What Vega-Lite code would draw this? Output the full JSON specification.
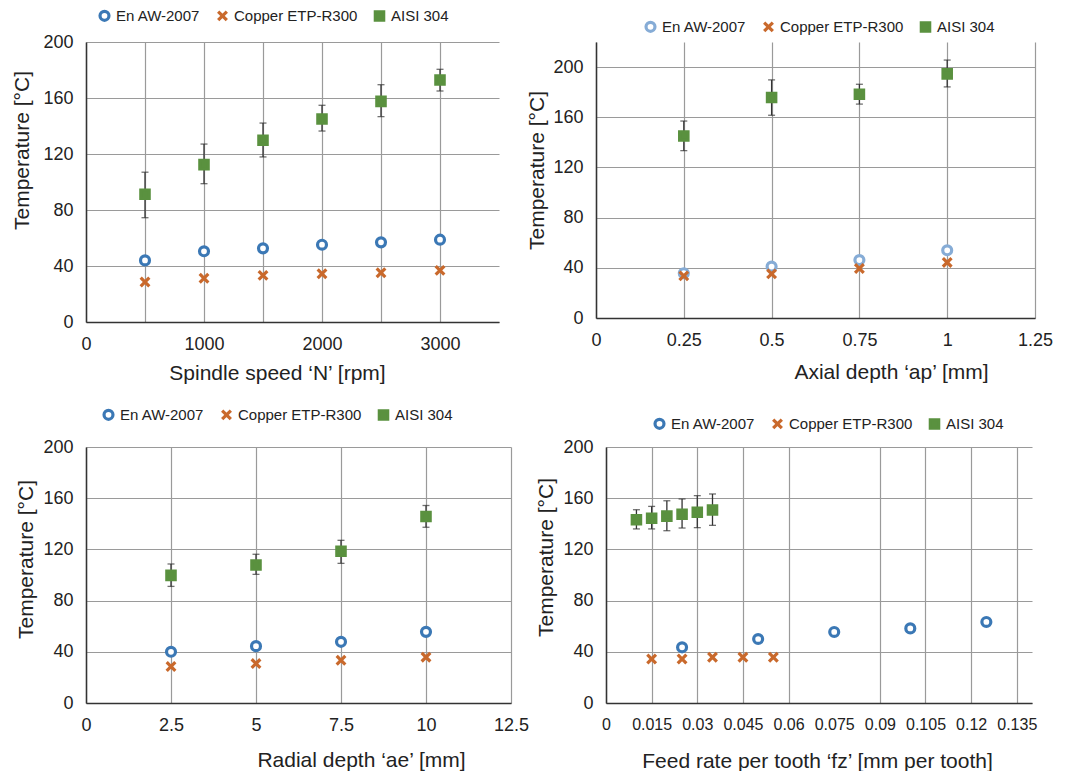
{
  "$schema": "https://vega.github.io/schema/vega-lite/v6.json",
  "padding": {"left": 10, "top": 8, "right": 0, "bottom": 0},
  "bounds": "flush",
  "spacing": 405,
  "datasets": {
    "p1": [
      {"material": "En AW-2007", "x": 500, "t": 44},
      {"material": "En AW-2007", "x": 1000, "t": 50.5},
      {"material": "En AW-2007", "x": 1500, "t": 52.6},
      {"material": "En AW-2007", "x": 2000, "t": 55.2},
      {"material": "En AW-2007", "x": 2500, "t": 56.9},
      {"material": "En AW-2007", "x": 3000, "t": 58.8},
      {"material": "Copper ETP-R300", "x": 500, "t": 28.6},
      {"material": "Copper ETP-R300", "x": 1000, "t": 31.2},
      {"material": "Copper ETP-R300", "x": 1500, "t": 33.3},
      {"material": "Copper ETP-R300", "x": 2000, "t": 34.5},
      {"material": "Copper ETP-R300", "x": 2500, "t": 35.2},
      {"material": "Copper ETP-R300", "x": 3000, "t": 36.9},
      {"material": "AISI 304", "x": 500, "t": 91.2, "lo": 74.5, "hi": 107},
      {"material": "AISI 304", "x": 1000, "t": 112.4, "lo": 98.8, "hi": 127.1},
      {"material": "AISI 304", "x": 1500, "t": 129.8, "lo": 117.9, "hi": 142.1},
      {"material": "AISI 304", "x": 2000, "t": 145, "lo": 136.4, "hi": 154.8},
      {"material": "AISI 304", "x": 2500, "t": 157.6, "lo": 146.7, "hi": 169.5},
      {"material": "AISI 304", "x": 3000, "t": 172.9, "lo": 165, "hi": 180.5}
    ],
    "p2": [
      {"material": "En AW-2007", "x": 0.25, "t": 35.7},
      {"material": "En AW-2007", "x": 0.5, "t": 41},
      {"material": "En AW-2007", "x": 0.75, "t": 46.2},
      {"material": "En AW-2007", "x": 1, "t": 54},
      {"material": "Copper ETP-R300", "x": 0.25, "t": 33.6},
      {"material": "Copper ETP-R300", "x": 0.5, "t": 35.2},
      {"material": "Copper ETP-R300", "x": 0.75, "t": 39.5},
      {"material": "Copper ETP-R300", "x": 1, "t": 44.3},
      {"material": "AISI 304", "x": 0.25, "t": 145, "lo": 133.4, "hi": 157},
      {"material": "AISI 304", "x": 0.5, "t": 175.8, "lo": 161.6, "hi": 189.8},
      {"material": "AISI 304", "x": 0.75, "t": 178.3, "lo": 170.5, "hi": 186.3},
      {"material": "AISI 304", "x": 1, "t": 194.6, "lo": 184.2, "hi": 205.6}
    ],
    "p3": [
      {"material": "En AW-2007", "x": 2.5, "t": 40},
      {"material": "En AW-2007", "x": 5, "t": 44.4},
      {"material": "En AW-2007", "x": 7.5, "t": 47.8},
      {"material": "En AW-2007", "x": 10, "t": 55.6},
      {"material": "Copper ETP-R300", "x": 2.5, "t": 28.5},
      {"material": "Copper ETP-R300", "x": 5, "t": 30.8},
      {"material": "Copper ETP-R300", "x": 7.5, "t": 33.4},
      {"material": "Copper ETP-R300", "x": 10, "t": 35.8},
      {"material": "AISI 304", "x": 2.5, "t": 99.7, "lo": 91.1, "hi": 108.6},
      {"material": "AISI 304", "x": 5, "t": 107.8, "lo": 100.5, "hi": 116.2},
      {"material": "AISI 304", "x": 7.5, "t": 118.5, "lo": 109.1, "hi": 127.1},
      {"material": "AISI 304", "x": 10, "t": 145.7, "lo": 137.3, "hi": 154.3}
    ],
    "p4": [
      {"material": "En AW-2007", "x": 0.025, "t": 43.5},
      {"material": "En AW-2007", "x": 0.05, "t": 50},
      {"material": "En AW-2007", "x": 0.075, "t": 55.5},
      {"material": "En AW-2007", "x": 0.1, "t": 58.3},
      {"material": "En AW-2007", "x": 0.125, "t": 63.3},
      {"material": "Copper ETP-R300", "x": 0.015, "t": 34.4},
      {"material": "Copper ETP-R300", "x": 0.025, "t": 34.4},
      {"material": "Copper ETP-R300", "x": 0.035, "t": 35.7},
      {"material": "Copper ETP-R300", "x": 0.045, "t": 35.7},
      {"material": "Copper ETP-R300", "x": 0.055, "t": 35.7},
      {"material": "AISI 304", "x": 0.01, "t": 143.2, "lo": 136, "hi": 151},
      {"material": "AISI 304", "x": 0.015, "t": 144.3, "lo": 136, "hi": 153.6},
      {"material": "AISI 304", "x": 0.02, "t": 146, "lo": 134.6, "hi": 158},
      {"material": "AISI 304", "x": 0.025, "t": 147.4, "lo": 136.7, "hi": 159.4},
      {"material": "AISI 304", "x": 0.03, "t": 149, "lo": 137, "hi": 162},
      {"material": "AISI 304", "x": 0.035, "t": 150.8, "lo": 138.8, "hi": 163.3}
    ]
  },
  "resolve": {
    "scale": {"stroke": "independent", "fill": "independent", "shape": "independent", "strokeWidth": "independent", "size": "independent"},
    "legend": {"stroke": "independent", "fill": "independent", "shape": "independent", "strokeWidth": "independent", "size": "independent"}
  },
  "vconcat": [
    {
      "hconcat": [
        {
          "width": 413, "height": 280,
          "data": {"name": "p1"},
          "layer": [
            {
              "transform": [{"filter": "isValid(datum.lo)"}],
              "mark": {"type": "errorbar", "color": "#333", "thickness": 1.3, "ticks": {"size": 7, "color": "#333"}},
              "encoding": {
                "x": {"field": "x", "type": "quantitative", "scale": {"domain": [0, 3500], "nice": false}, "axis": {"values": [0, 500, 1000, 1500, 2000, 2500, 3000], "format": ".6~g", "labelExpr": "datum.value % 1000 == 0 ? datum.label : ''", "title": "Spindle speed  ‘N’ [rpm]", "titleX": 191, "titleY": 51}},
                "y": {"field": "lo", "type": "quantitative", "scale": {"domain": [0, 200], "nice": false}, "axis": {"values": [0, 40, 80, 120, 160, 200], "title": "Temperature [°C]", "titleX": -64, "titleY": 108}},
                "y2": {"field": "hi"}
              }
            },
            {
              "mark": {"type": "point", "opacity": 1},
              "encoding": {
                "x": {"field": "x", "type": "quantitative", "scale": {"domain": [0, 3500], "nice": false}, "axis": {"values": [0, 500, 1000, 1500, 2000, 2500, 3000], "format": ".6~g", "labelExpr": "datum.value % 1000 == 0 ? datum.label : ''", "title": "Spindle speed  ‘N’ [rpm]", "titleX": 191, "titleY": 51}},
                "y": {"field": "t", "type": "quantitative", "scale": {"domain": [0, 200], "nice": false}, "axis": {"values": [0, 40, 80, 120, 160, 200], "title": "Temperature [°C]", "titleX": -64, "titleY": 108}},
                "shape": {"field": "material", "type": "nominal", "scale": {"domain": ["En AW-2007", "Copper ETP-R300", "AISI 304"], "range": ["circle", "M-1,-1L1,1M1,-1L-1,1", "square"]}, "legend": {"orient": "none", "legendX": 11, "legendY": -34, "direction": "horizontal", "columns": 3, "title": null}},
                "stroke": {"field": "material", "type": "nominal", "scale": {"domain": ["En AW-2007", "Copper ETP-R300", "AISI 304"], "range": ["#3b78b5", "#c9692c", "#5a913f"]}, "legend": {"orient": "none", "legendX": 11, "legendY": -34, "direction": "horizontal", "columns": 3, "title": null}},
                "fill": {"field": "material", "type": "nominal", "scale": {"domain": ["En AW-2007", "Copper ETP-R300", "AISI 304"], "range": ["#ffffff", "rgba(0,0,0,0)", "#5a913f"]}, "legend": {"orient": "none", "legendX": 11, "legendY": -34, "direction": "horizontal", "columns": 3, "title": null}},
                "strokeWidth": {"field": "material", "type": "nominal", "scale": {"domain": ["En AW-2007", "Copper ETP-R300", "AISI 304"], "range": [3.2, 3.2, 1]}, "legend": {"orient": "none", "legendX": 11, "legendY": -34, "direction": "horizontal", "columns": 3, "title": null}},
                "size": {"field": "material", "type": "nominal", "scale": {"domain": ["En AW-2007", "Copper ETP-R300", "AISI 304"], "range": [80, 70, 64]}, "legend": {"orient": "none", "legendX": 11, "legendY": -34, "direction": "horizontal", "columns": 3, "title": null}}
              }
            }
          ]
        },
        {
          "width": 439, "height": 276,
          "data": {"name": "p2"},
          "layer": [
            {
              "transform": [{"filter": "isValid(datum.lo)"}],
              "mark": {"type": "errorbar", "color": "#333", "thickness": 1.3, "ticks": {"size": 7, "color": "#333"}},
              "encoding": {
                "x": {"field": "x", "type": "quantitative", "scale": {"domain": [0, 1.25], "nice": false}, "axis": {"values": [0, 0.25, 0.5, 0.75, 1, 1.25], "format": ".6~g", "title": "Axial depth  ‘ap’ [mm]", "titleX": 295, "titleY": 54}},
                "y": {"field": "lo", "type": "quantitative", "scale": {"domain": [0, 220], "nice": false}, "axis": {"values": [0, 40, 80, 120, 160, 200], "title": "Temperature [°C]", "titleX": -59, "titleY": 128}},
                "y2": {"field": "hi"}
              }
            },
            {
              "mark": {"type": "point", "opacity": 1},
              "encoding": {
                "x": {"field": "x", "type": "quantitative", "scale": {"domain": [0, 1.25], "nice": false}, "axis": {"values": [0, 0.25, 0.5, 0.75, 1, 1.25], "format": ".6~g", "title": "Axial depth  ‘ap’ [mm]", "titleX": 295, "titleY": 54}},
                "y": {"field": "t", "type": "quantitative", "scale": {"domain": [0, 220], "nice": false}, "axis": {"values": [0, 40, 80, 120, 160, 200], "title": "Temperature [°C]", "titleX": -59, "titleY": 128}},
                "shape": {"field": "material", "type": "nominal", "scale": {"domain": ["En AW-2007", "Copper ETP-R300", "AISI 304"], "range": ["circle", "M-1,-1L1,1M1,-1L-1,1", "square"]}, "legend": {"orient": "none", "legendX": 47, "legendY": -23, "direction": "horizontal", "columns": 3, "title": null}},
                "stroke": {"field": "material", "type": "nominal", "scale": {"domain": ["En AW-2007", "Copper ETP-R300", "AISI 304"], "range": ["#86acd6", "#c9692c", "#5a913f"]}, "legend": {"orient": "none", "legendX": 47, "legendY": -23, "direction": "horizontal", "columns": 3, "title": null}},
                "fill": {"field": "material", "type": "nominal", "scale": {"domain": ["En AW-2007", "Copper ETP-R300", "AISI 304"], "range": ["#ffffff", "rgba(0,0,0,0)", "#5a913f"]}, "legend": {"orient": "none", "legendX": 47, "legendY": -23, "direction": "horizontal", "columns": 3, "title": null}},
                "strokeWidth": {"field": "material", "type": "nominal", "scale": {"domain": ["En AW-2007", "Copper ETP-R300", "AISI 304"], "range": [3.2, 3.2, 1]}, "legend": {"orient": "none", "legendX": 47, "legendY": -23, "direction": "horizontal", "columns": 3, "title": null}},
                "size": {"field": "material", "type": "nominal", "scale": {"domain": ["En AW-2007", "Copper ETP-R300", "AISI 304"], "range": [80, 70, 64]}, "legend": {"orient": "none", "legendX": 47, "legendY": -23, "direction": "horizontal", "columns": 3, "title": null}}
              }
            }
          ]
        }
      ],
      "spacing": 97,
      "bounds": "flush",
      "resolve": {
        "scale": {"stroke": "independent", "fill": "independent", "shape": "independent", "strokeWidth": "independent", "size": "independent"},
        "legend": {"stroke": "independent", "fill": "independent", "shape": "independent", "strokeWidth": "independent", "size": "independent"}
      }
    },
    {
      "hconcat": [
        {
          "width": 425, "height": 256,
          "data": {"name": "p3"},
          "layer": [
            {
              "transform": [{"filter": "isValid(datum.lo)"}],
              "mark": {"type": "errorbar", "color": "#333", "thickness": 1.3, "ticks": {"size": 7, "color": "#333"}},
              "encoding": {
                "x": {"field": "x", "type": "quantitative", "scale": {"domain": [0, 12.5], "nice": false}, "axis": {"values": [0, 2.5, 5, 7.5, 10, 12.5], "format": ".6~g", "title": "Radial depth  ‘ae’ [mm]", "titleX": 275, "titleY": 57}},
                "y": {"field": "lo", "type": "quantitative", "scale": {"domain": [0, 200], "nice": false}, "axis": {"values": [0, 40, 80, 120, 160, 200], "title": "Temperature [°C]", "titleX": -60, "titleY": 112}},
                "y2": {"field": "hi"}
              }
            },
            {
              "mark": {"type": "point", "opacity": 1},
              "encoding": {
                "x": {"field": "x", "type": "quantitative", "scale": {"domain": [0, 12.5], "nice": false}, "axis": {"values": [0, 2.5, 5, 7.5, 10, 12.5], "format": ".6~g", "title": "Radial depth  ‘ae’ [mm]", "titleX": 275, "titleY": 57}},
                "y": {"field": "t", "type": "quantitative", "scale": {"domain": [0, 200], "nice": false}, "axis": {"values": [0, 40, 80, 120, 160, 200], "title": "Temperature [°C]", "titleX": -60, "titleY": 112}},
                "shape": {"field": "material", "type": "nominal", "scale": {"domain": ["En AW-2007", "Copper ETP-R300", "AISI 304"], "range": ["circle", "M-1,-1L1,1M1,-1L-1,1", "square"]}, "legend": {"orient": "none", "legendX": 15, "legendY": -40, "direction": "horizontal", "columns": 3, "title": null}},
                "stroke": {"field": "material", "type": "nominal", "scale": {"domain": ["En AW-2007", "Copper ETP-R300", "AISI 304"], "range": ["#3b78b5", "#c9692c", "#5a913f"]}, "legend": {"orient": "none", "legendX": 15, "legendY": -40, "direction": "horizontal", "columns": 3, "title": null}},
                "fill": {"field": "material", "type": "nominal", "scale": {"domain": ["En AW-2007", "Copper ETP-R300", "AISI 304"], "range": ["#ffffff", "rgba(0,0,0,0)", "#5a913f"]}, "legend": {"orient": "none", "legendX": 15, "legendY": -40, "direction": "horizontal", "columns": 3, "title": null}},
                "strokeWidth": {"field": "material", "type": "nominal", "scale": {"domain": ["En AW-2007", "Copper ETP-R300", "AISI 304"], "range": [3.2, 3.2, 1]}, "legend": {"orient": "none", "legendX": 15, "legendY": -40, "direction": "horizontal", "columns": 3, "title": null}},
                "size": {"field": "material", "type": "nominal", "scale": {"domain": ["En AW-2007", "Copper ETP-R300", "AISI 304"], "range": [80, 70, 64]}, "legend": {"orient": "none", "legendX": 15, "legendY": -40, "direction": "horizontal", "columns": 3, "title": null}}
              }
            }
          ]
        },
        {
          "width": 426, "height": 256,
          "data": {"name": "p4"},
          "layer": [
            {
              "transform": [{"filter": "isValid(datum.lo)"}],
              "mark": {"type": "errorbar", "color": "#333", "thickness": 1.3, "ticks": {"size": 7, "color": "#333"}},
              "encoding": {
                "x": {"field": "x", "type": "quantitative", "scale": {"domain": [0, 0.14], "nice": false}, "axis": {"values": [0, 0.015, 0.03, 0.045, 0.06, 0.075, 0.09, 0.105, 0.12, 0.135], "format": ".6~g", "labelFontSize": 16, "gridColor": {"condition": {"test": "abs(datum.value - 0.075) < 0.000001", "value": "rgba(0,0,0,0)"}, "value": "#9a9a9a"}, "title": "Feed rate per tooth  ‘fz’ [mm per tooth]", "titleX": 211, "titleY": 58}},
                "y": {"field": "lo", "type": "quantitative", "scale": {"domain": [0, 200], "nice": false}, "axis": {"values": [0, 40, 80, 120, 160, 200], "title": "Temperature [°C]", "titleX": -60, "titleY": 110}},
                "y2": {"field": "hi"}
              }
            },
            {
              "mark": {"type": "point", "opacity": 1},
              "encoding": {
                "x": {"field": "x", "type": "quantitative", "scale": {"domain": [0, 0.14], "nice": false}, "axis": {"values": [0, 0.015, 0.03, 0.045, 0.06, 0.075, 0.09, 0.105, 0.12, 0.135], "format": ".6~g", "labelFontSize": 16, "gridColor": {"condition": {"test": "abs(datum.value - 0.075) < 0.000001", "value": "rgba(0,0,0,0)"}, "value": "#9a9a9a"}, "title": "Feed rate per tooth  ‘fz’ [mm per tooth]", "titleX": 211, "titleY": 58}},
                "y": {"field": "t", "type": "quantitative", "scale": {"domain": [0, 200], "nice": false}, "axis": {"values": [0, 40, 80, 120, 160, 200], "title": "Temperature [°C]", "titleX": -60, "titleY": 110}},
                "shape": {"field": "material", "type": "nominal", "scale": {"domain": ["En AW-2007", "Copper ETP-R300", "AISI 304"], "range": ["circle", "M-1,-1L1,1M1,-1L-1,1", "square"]}, "legend": {"orient": "none", "legendX": 46, "legendY": -31, "direction": "horizontal", "columns": 3, "title": null}},
                "stroke": {"field": "material", "type": "nominal", "scale": {"domain": ["En AW-2007", "Copper ETP-R300", "AISI 304"], "range": ["#3b78b5", "#c9692c", "#5a913f"]}, "legend": {"orient": "none", "legendX": 46, "legendY": -31, "direction": "horizontal", "columns": 3, "title": null}},
                "fill": {"field": "material", "type": "nominal", "scale": {"domain": ["En AW-2007", "Copper ETP-R300", "AISI 304"], "range": ["#ffffff", "rgba(0,0,0,0)", "#5a913f"]}, "legend": {"orient": "none", "legendX": 46, "legendY": -31, "direction": "horizontal", "columns": 3, "title": null}},
                "strokeWidth": {"field": "material", "type": "nominal", "scale": {"domain": ["En AW-2007", "Copper ETP-R300", "AISI 304"], "range": [3.2, 3.2, 1]}, "legend": {"orient": "none", "legendX": 46, "legendY": -31, "direction": "horizontal", "columns": 3, "title": null}},
                "size": {"field": "material", "type": "nominal", "scale": {"domain": ["En AW-2007", "Copper ETP-R300", "AISI 304"], "range": [80, 70, 64]}, "legend": {"orient": "none", "legendX": 46, "legendY": -31, "direction": "horizontal", "columns": 3, "title": null}}
              }
            }
          ]
        }
      ],
      "spacing": 95,
      "bounds": "flush",
      "resolve": {
        "scale": {"stroke": "independent", "fill": "independent", "shape": "independent", "strokeWidth": "independent", "size": "independent"},
        "legend": {"stroke": "independent", "fill": "independent", "shape": "independent", "strokeWidth": "independent", "size": "independent"}
      }
    }
  ],
  "config": {
    "view": {"stroke": null},
    "font": "Liberation Sans",
    "axis": {
      "labelFont": "Liberation Sans", "labelFontSize": 18, "labelColor": "#222",
      "titleFont": "Liberation Sans", "titleFontSize": 21, "titleFontWeight": "normal", "titleColor": "#222",
      "titleBaseline": "middle",
      "gridColor": "#9a9a9a", "gridWidth": 1.2,
      "domainColor": "#333", "domainWidth": 1.5,
      "ticks": false, "labelPadding": 13, "labelFlush": false, "labelOverlap": false
    },
    "legend": {
      "labelFont": "Liberation Sans", "labelFontSize": 15, "labelColor": "#222",
      "columnPadding": 10, "labelOffset": 4
    }
  }
}
